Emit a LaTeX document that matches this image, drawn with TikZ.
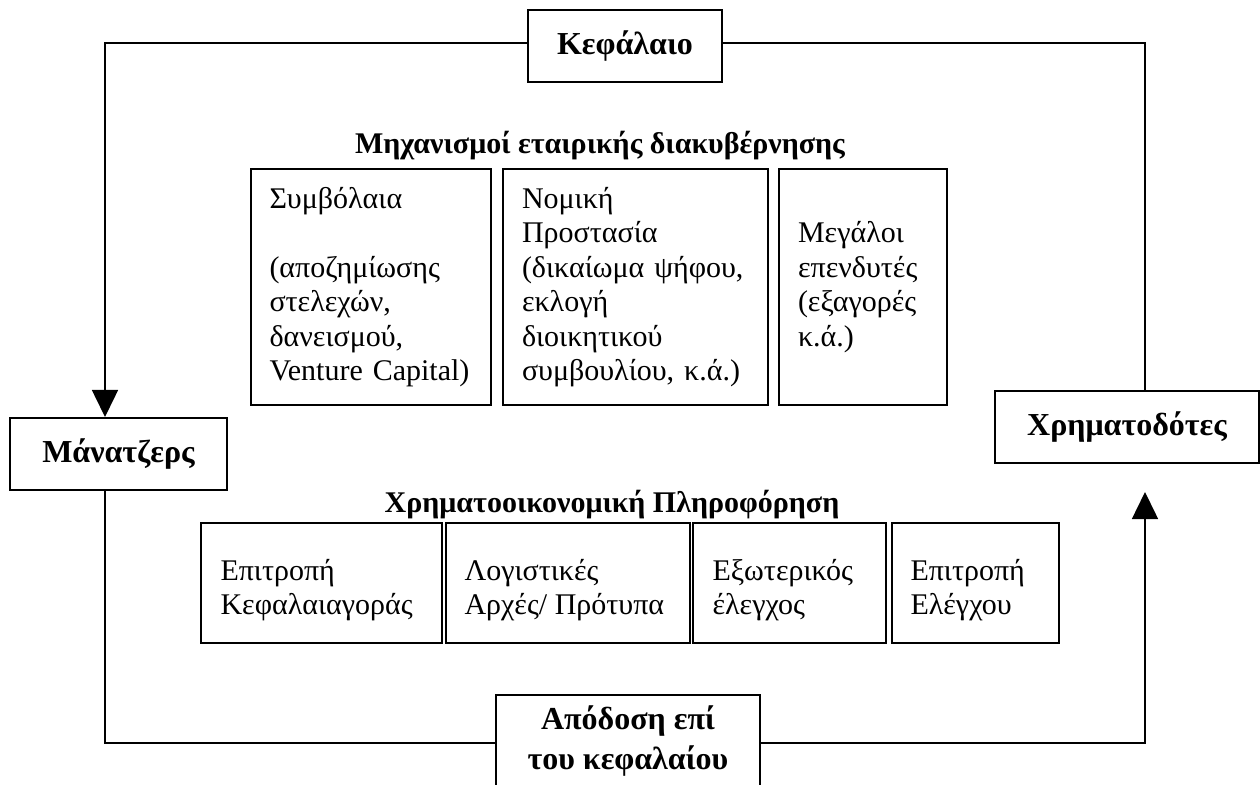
\documentclass[tikz,border=0pt]{standalone}
\usepackage{fontspec}
\setmainfont{Liberation Serif}
\usetikzlibrary{arrows.meta}
\begin{document}
\begin{tikzpicture}[x=0.4pt,y=-0.4pt,
  frame/.style={draw, line width=0.8pt, inner sep=0pt},
  actor/.style={frame, font=\fontsize{12.8}{16}\selectfont\bfseries, align=center},
  mech/.style={frame, font=\fontsize{12}{13.8}\selectfont, align=left,
    inner xsep=7.6pt, minimum height=94pt},
  info/.style={frame, minimum height=48pt},
  infotxt/.style={font=\fontsize{12}{13.8}\selectfont, align=left, anchor=west, inner sep=0pt},
  heading/.style={font=\fontsize{12}{14}\selectfont\bfseries},
  conn/.style={line width=0.6pt},
  flow/.style={conn, -{Triangle[width=10.4pt,length=10.8pt]}}]
\useasboundingbox (0,0) rectangle (1260,785);
\clip (0,0) rectangle (1260,785);

% the four actors of the cycle
\node[actor, minimum width=77.6pt, minimum height=28.8pt] (kef) at (625,46) {Κεφάλαιο};
\node[actor, minimum width=86.8pt, minimum height=28.8pt] (man) at (118.5,454) {Μάνατζερς};
\node[actor, minimum width=105.6pt, minimum height=28.8pt] (fin) at (1127,427) {Χρηματοδότες};
\node[frame, minimum width=105.8pt, minimum height=44pt, anchor=north] (ret) at (628,694) {};
\node[actor, draw=none] (rettxt) at (628,741) {Απόδοση επί\\του κεφαλαίου};

% governance mechanisms
\node[heading] (mhead) at (600,146) {Μηχανισμοί εταιρικής διακυβέρνησης};
\node[mech, text width=80.8pt] (m1) at (370.5,287) {Συμβόλαια\\[13.8pt](αποζημίωσης\\στελεχών,\\δανεισμού,\\Venture Capital)};
\node[mech, text width=90.8pt] (m2) at (635.5,287) {Νομική\\Προστασία\\(δικαίωμα ψήφου,\\εκλογή\\διοικητικού\\συμβουλίου, κ.ά.)};
\node[mech, text width=52pt] (m3) at (863,287) {Μεγάλοι\\επενδυτές\\(εξαγορές\\κ.ά.)};

% financial information
\node[heading] (ihead) at (612,505) {Χρηματοοικονομική Πληροφόρηση};
\node[info, minimum width=96.4pt] (i1) at (321.5,583) {};
\node[info, minimum width=97.6pt] (i2) at (568,583) {};
\node[info, minimum width=77.2pt] (i3) at (789.5,583) {};
\node[info, minimum width=66.8pt] (i4) at (975.5,583) {};
\node[infotxt] (i1t) at ([xshift=8pt,yshift=-2.8pt]i1.west) {Επιτροπή\\Κεφαλαιαγοράς};
\node[infotxt] (i2t) at ([xshift=7.6pt,yshift=-2.8pt]i2.west) {Λογιστικές\\Αρχές/ Πρότυπα};
\node[infotxt] (i3t) at ([xshift=8pt,yshift=-2.8pt]i3.west) {Εξωτερικός\\έλεγχος};
\node[infotxt] (i4t) at ([xshift=7.6pt,yshift=-2.8pt]i4.west) {Επιτροπή\\Ελέγχου};

% routing columns, rails and the free end of the return arrow
\coordinate (lcol) at (105,0);
\coordinate (rcol) at (1145,0);
\coordinate (toprail) at (0,43);
\coordinate (rail) at (0,743);
\coordinate (rtip) at (1145,492);

% the cycle
\draw[flow] (kef.west |- toprail) -| (lcol |- man.north);
\draw[conn] (kef.east |- toprail) -| (rcol |- fin.north);
\draw[conn] (lcol |- man.south) |- (ret.west |- rail);
\draw[flow] (ret.east |- rail) -| (rtip);
\end{tikzpicture}
\end{document}
